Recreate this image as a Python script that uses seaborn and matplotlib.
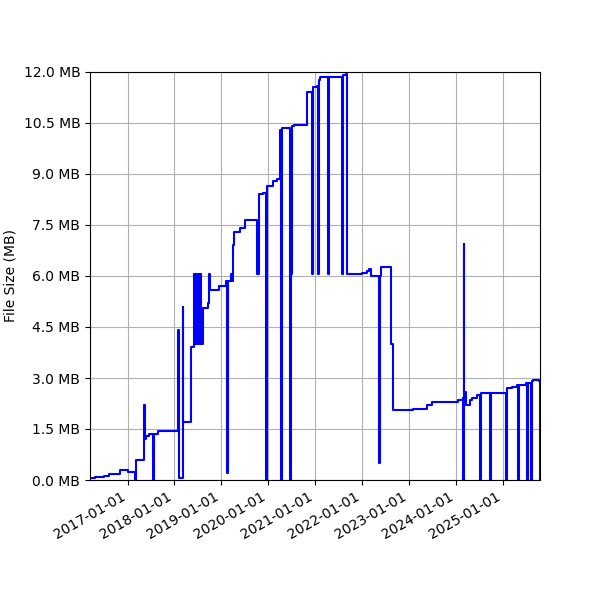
import matplotlib
matplotlib.use("Agg")
import matplotlib.pyplot as plt
import matplotlib.ticker as mt
import matplotlib.dates as mdates
import seaborn as sns
import pandas as pd
import numpy as np

years = [2016.2,2016.3,2016.5,2016.6,2016.85,2016.9,2017.0,2017.15,2017.17,2017.36,2017.38,2017.4,2017.45,2017.54,2017.56,2017.65,
 2018.08,2018.09,2018.1,2018.18,2018.19,2018.21,2018.36,2018.42,2018.44,2018.46,2018.48,2018.5,2018.52,2018.54,2018.56,2018.6,2018.72,2018.74,2018.76,2018.95,2019.1,2019.12,2019.14,2019.2,2019.22,2019.25,2019.28,2019.4,2019.5,2019.75,2019.77,2019.8,2019.9,2019.96,2019.98,2020.1,2020.2,2020.25,2020.27,2020.29,2020.45,2020.47,2020.49,2020.51,2020.55,2020.82,2020.92,2020.94,2020.96,2021.05,2021.06,2021.08,2021.1,2021.2,2021.28,2021.3,2021.56,2021.58,2021.6,2021.66,2021.68,2021.9,2022.0,2022.1,2022.15,2022.2,2022.36,2022.38,2022.4,2022.52,2022.62,2022.67,2023.1,2023.3,2023.4,2023.5,2023.95,2024.05,2024.15,2024.16,2024.17,2024.19,2024.22,2024.3,2024.35,2024.45,2024.5,2024.52,2024.54,2024.72,2024.74,2024.76,2025.05,2025.07,2025.09,2025.2,2025.31,2025.33,2025.36,2025.5,2025.52,2025.54,2025.6,2025.62,2025.64,2025.7,2025.78,2025.8]
sizes = [0.05,0.1,0.13,0.17,0.28,0.3,0.23,0.0,0.6,2.2,1.2,1.3,1.35,0.0,1.35,1.45,
 4.4,0.05,0.05,5.1,1.7,1.7,3.9,6.05,4.0,6.05,4.0,6.05,4.0,6.05,4.0,5.05,5.2,6.05,5.6,5.7,5.85,0.2,5.85,6.05,5.85,6.9,7.3,7.4,7.65,7.65,6.05,8.4,8.45,0.0,8.65,8.8,8.85,10.3,0.0,10.35,10.35,0.0,6.05,10.4,10.45,11.4,11.4,6.05,11.55,11.6,6.05,11.75,11.85,11.85,6.05,11.85,11.85,6.05,11.9,11.95,6.05,6.05,6.1,6.15,6.2,6.0,0.5,6.0,6.25,6.25,4.0,2.05,2.1,2.1,2.2,2.3,2.3,2.35,2.4,0.0,6.95,2.6,2.2,2.35,2.4,2.5,2.5,0.0,2.55,2.55,0.0,2.55,2.55,0.0,2.7,2.75,2.8,0.0,2.8,2.85,0.0,2.85,0.0,2.9,2.95,2.95,2.9,0.0]

def to_date(y):
    yr = int(np.floor(y))
    return pd.Timestamp(f"{yr}-01-01") + pd.Timedelta(days=(y - yr) * 365.25)

df = pd.DataFrame({"date": [to_date(y) for y in years], "size": sizes})

fig = plt.figure(figsize=(6, 6), dpi=100)
ax = fig.add_axes([0.15, 0.2, 0.75, 0.68])
sns.lineplot(data=df, x="date", y="size", ax=ax, color="blue", drawstyle="steps-post", linewidth=1.5)
ax.set_xlim(df["date"].min(), df["date"].max())
ax.set_ylim(0, 12)
ax.yaxis.set_major_locator(mt.MultipleLocator(1.5))
ax.yaxis.set_major_formatter(mt.FuncFormatter(lambda v, p: f"{v:.1f} MB"))
ax.xaxis.set_major_locator(mdates.YearLocator())
ax.xaxis.set_major_formatter(mdates.DateFormatter("%Y-%m-%d"))
ax.grid(True)
ax.set_xlabel("")
ax.set_ylabel("File Size (MB)")
for lbl in ax.get_xticklabels():
    lbl.set_rotation(30)
    lbl.set_ha("right")
fig.savefig("out.png", dpi=100)
